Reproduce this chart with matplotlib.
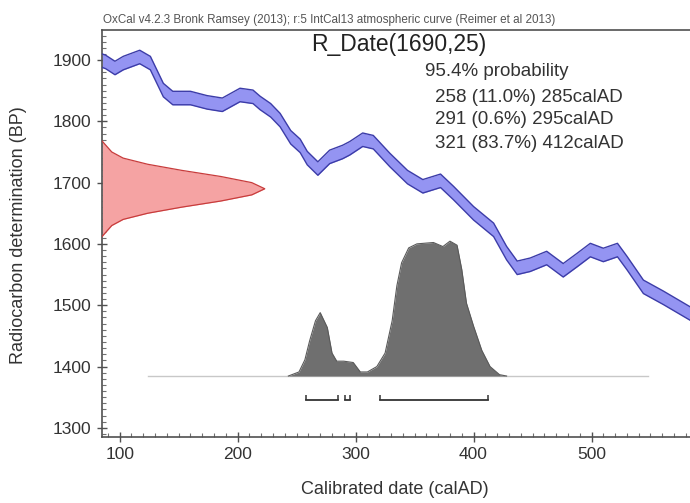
import numpy as np
import matplotlib
matplotlib.use("Agg")
import matplotlib.pyplot as plt
from matplotlib.ticker import MultipleLocator

plt.rcParams["font.family"] = ["Liberation Sans", "DejaVu Sans"]

# calibration curve (IntCal13), centre line
curve_years = [85, 88, 96, 103, 117, 126, 137, 145, 160, 174, 187, 202, 213, 219,
               228, 236, 245, 253, 259, 268, 278, 289, 295, 306, 315, 329, 344,
               357, 372, 383, 400, 417, 428, 437, 448, 462, 476, 488, 499, 510,
               522, 530, 544, 561, 584]
curve_bp = [1899, 1897, 1887, 1895, 1905, 1895, 1851, 1838, 1838, 1831, 1827, 1843,
            1840, 1830, 1818, 1802, 1774, 1760, 1740, 1723, 1742, 1750, 1756, 1770,
            1766, 1737, 1709, 1694, 1703, 1683, 1650, 1623, 1585, 1561, 1566, 1577,
            1557, 1574, 1590, 1582, 1590, 1569, 1530, 1512, 1486]
curve_sigma = 11

# radiocarbon date R_Date(1690,25), relative density
date_bp = [1768, 1750, 1740, 1730, 1720, 1710, 1700, 1690, 1680, 1670, 1660,
           1650, 1640, 1630, 1612]
date_dens = [0.0, 0.06, 0.13, 0.28, 0.49, 0.73, 0.92, 1.0, 0.92, 0.73, 0.49,
             0.28, 0.13, 0.06, 0.0]

# calibrated probability distribution
cal_years = [243, 252, 257, 261, 266, 270, 276, 280, 284, 290, 298, 304, 310, 318,
             325, 331, 335, 339, 345, 352, 366, 374, 380, 386, 390, 394, 400, 407,
             414, 422, 428]
cal_prob = [0.0, 0.03, 0.12, 0.26, 0.41, 0.47, 0.36, 0.17, 0.11, 0.11, 0.10, 0.03,
            0.03, 0.07, 0.17, 0.41, 0.67, 0.84, 0.95, 0.98, 0.99, 0.96, 1.0, 0.97,
            0.79, 0.54, 0.37, 0.19, 0.07, 0.01, 0.0]

# 95.4% ranges
range_start = [258, 291, 321]
range_end = [285, 295, 412]
range_pct = ["11.0%", "0.6%", "83.7%"]

xlim = (85, 583.5)
ylim = (1285, 1949)

fig = plt.figure(figsize=(6.9, 5.03), dpi=100)
ax = fig.add_axes([102 / 690, 66 / 503, 588 / 690, 407 / 503])

# calibration curve band
cy = np.array(curve_bp)
ax.fill_between(curve_years, cy - curve_sigma, cy + curve_sigma,
                color="#9494f2", lw=0, zorder=2)
ax.plot(curve_years, cy + curve_sigma, color="#3c3ca8", lw=1, zorder=3)
ax.plot(curve_years, cy - curve_sigma, color="#3c3ca8", lw=1, zorder=3)

# date likelihood on the y axis
date_width = 138
dx = xlim[0] + date_width * np.array(date_dens)
ax.fill_betweenx(date_bp, xlim[0], dx, color="#f5a3a3", lw=0, zorder=2)
ax.plot(dx, date_bp, color="#c83c3c", lw=0.9, zorder=3)

# calibrated distribution
base = 1384.5
cal_h = 220
ax.plot([124, 548], [base, base], color="#c8c8c8", lw=1, zorder=1)
ax.fill_between(cal_years, base, base + cal_h * np.array(cal_prob),
                color="#6f6f6f", lw=0, zorder=2)
ax.plot(cal_years, base + cal_h * np.array(cal_prob), color="#5a5a5a", lw=0.8, zorder=3)

# range bars
bar_y = 1345
for s, e in zip(range_start, range_end):
    ax.plot([s, e], [bar_y, bar_y], color="#333333", lw=1.3, zorder=3)
    ax.vlines([s, e], bar_y, bar_y + 8, color="#333333", lw=1.1, zorder=3)

ax.set_xlim(*xlim)
ax.set_ylim(*ylim)

ax.spines["right"].set_visible(False)
for side in ["left", "bottom", "top"]:
    ax.spines[side].set_color("#505050")
    ax.spines[side].set_linewidth(1.2)

ax.xaxis.set_major_locator(MultipleLocator(100))
ax.xaxis.set_minor_locator(MultipleLocator(10))
ax.yaxis.set_major_locator(MultipleLocator(100))
ax.yaxis.set_minor_locator(MultipleLocator(10))
ax.tick_params(which="major", direction="inout", length=7, width=1, color="#505050",
               labelsize=12.5, labelcolor="#333333", top=False, right=False)
ax.tick_params(which="minor", direction="in", length=3, width=0.8, color="#707070",
               top=False, right=False)
ax.tick_params(axis="y", pad=4)

ax.set_xlabel("Calibrated date (calAD)", fontsize=13, color="#333333")
ax.set_ylabel("Radiocarbon determination (BP)", fontsize=13, color="#333333")
ax.xaxis.set_label_coords((395 - 102) / 588, (437 - 481) / 407)
ax.yaxis.set_label_coords((27 - 102) / 588, (437 - 235) / 407)

fig.text(103 / 690, 1 - 20 / 503,
         "OxCal v4.2.3 Bronk Ramsey (2013); r:5 IntCal13 atmospheric curve (Reimer et al 2013)",
         fontsize=8.4, color="#555555", ha="left", va="center")

fig.text(399 / 690, 1 - 45 / 503, "R_Date(1690,25)", fontsize=16.5, color="#222222",
         ha="center", va="center")

fig.text(425 / 690, 1 - 72 / 503, "95.4% probability", fontsize=13.5, color="#333333",
         ha="left", va="center")
for i, (s, e, p) in enumerate(zip(range_start, range_end, range_pct)):
    fig.text(435 / 690, 1 - (97 + 23 * i) / 503, f"{s} ({p}) {e}calAD",
             fontsize=13.5, color="#333333", ha="left", va="center")

fig.savefig("out.png", dpi=100)
